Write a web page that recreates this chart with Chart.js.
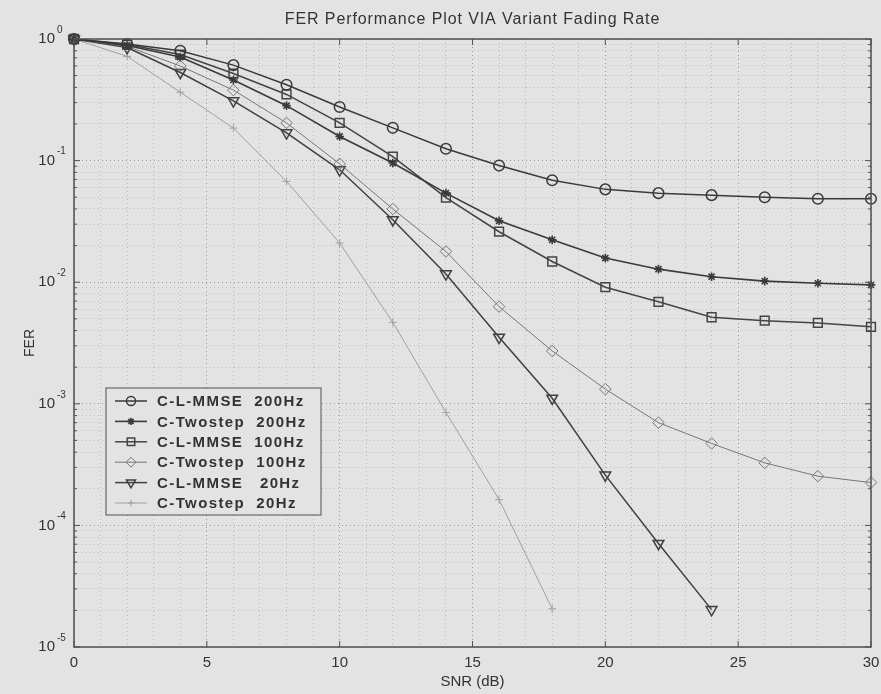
<!DOCTYPE html>
<html>
<head>
<meta charset="utf-8">
<script src="https://cdn.jsdelivr.net/npm/chart.js@4"></script>
<style>
  html, body { margin: 0; padding: 0; background: #e3e3e3; }
  canvas { display: block; }
</style>
</head>
<body>
<canvas id="fer" width="881" height="694"></canvas>
<script>
// SNR points (dB)
const snr = [0, 2, 4, 6, 8, 10, 12, 14, 16, 18, 20, 22, 24, 26, 28, 30];

const chartTitle = 'FER Performance Plot VIA Variant Fading Rate';
const seriesLabels = [
  'C-L-MMSE  200Hz',
  'C-Twostep  200Hz',
  'C-L-MMSE  100Hz',
  'C-Twostep  100Hz',
  'C-L-MMSE   20Hz',
  'C-Twostep  20Hz'
];

// FER values
const lmmse200   = [1, 0.91, 0.80, 0.61, 0.42, 0.276, 0.186, 0.125, 0.091, 0.069, 0.058, 0.054, 0.052, 0.050, 0.0486, 0.0486];
const twostep200 = [1, 0.885, 0.71, 0.46, 0.283, 0.158, 0.0955, 0.054, 0.032, 0.0223, 0.0158, 0.0128, 0.0111, 0.0102, 0.0098, 0.0095];
const lmmse100   = [1, 0.90, 0.745, 0.52, 0.35, 0.204, 0.108, 0.0497, 0.026, 0.0148, 0.0091, 0.0069, 0.00515, 0.00483, 0.00462, 0.0043];
const twostep100 = [1, 0.87, 0.60, 0.38, 0.204, 0.094, 0.040, 0.0179, 0.0063, 0.00272, 0.00132, 0.0007, 0.000472, 0.000327, 0.000254, 0.000225];
const lmmse20    = [1, 0.85, 0.53, 0.31, 0.169, 0.084, 0.0326, 0.0117, 0.00352, 0.00111, 0.000259, 0.000071, 0.0000203];
const twostep20  = [1, 0.72, 0.365, 0.185, 0.0675, 0.021, 0.00468, 0.00085, 0.000163, 0.0000206];

// axis ticks
const xTickLabels = [0, 5, 10, 15, 20, 25, 30];
const yExponents = [0, -1, -2, -3, -4, -5];

const yGrid = [];
yExponents.slice(1).forEach(e => {
  for (let k = 1; k <= 9; k++) yGrid.push(k * Math.pow(10, e));
});
yGrid.push(1);

const pts = vals => vals.map((v, i) => ({ x: snr[i], y: v }));

const styles = [
  { color: '#3a3a3a', width: 1.5, point: 'circle',   radius: 5.3, rotation: 0 },
  { color: '#3a3a3a', width: 1.6, point: 'star',     radius: 4.3, rotation: 0 },
  { color: '#444444', width: 1.5, point: 'rect',     radius: 6.2, rotation: 0 },
  { color: '#777777', width: 1,   point: 'rectRot',  radius: 5.8, rotation: 0 },
  { color: '#404040', width: 1.5, point: 'triangle', radius: 6.2, rotation: 180 },
  { color: '#a0a0a0', width: 1,   point: 'cross',    radius: 4,   rotation: 0 }
];

const seriesData = [lmmse200, twostep200, lmmse100, twostep100, lmmse20, twostep20];

const datasets = seriesData.map((vals, i) => ({
  label: seriesLabels[i],
  data: pts(vals),
  borderColor: styles[i].color,
  borderWidth: styles[i].width,
  pointStyle: styles[i].point,
  pointRadius: styles[i].radius,
  pointRotation: styles[i].rotation,
  pointBorderColor: styles[i].color,
  pointBackgroundColor: 'rgba(0,0,0,0)',
  pointBorderWidth: styles[i].width,
  tension: 0,
  clip: false
}));

const ink = '#333333';
const font = 'Liberation Sans, Arial, Helvetica, sans-serif';

// title, box, inward ticks, y labels with superscripts, legend inside the axes
const framePlugin = {
  id: 'frame',
  afterDatasetsDraw(chart) {
    const ctx = chart.ctx;
    const a = chart.chartArea;
    const xs = chart.scales.x, ys = chart.scales.y;
    ctx.save();

    ctx.fillStyle = ink;
    ctx.font = '16px ' + font;
    ctx.letterSpacing = '0.9px';
    ctx.textAlign = 'center';
    ctx.textBaseline = 'middle';
    ctx.fillText(chartTitle, (a.left + a.right) / 2, 20);
    ctx.letterSpacing = '0px';

    ctx.strokeStyle = '#505050';
    ctx.lineWidth = 1.5;
    ctx.strokeRect(a.left, a.top, a.right - a.left, a.bottom - a.top);

    ctx.lineWidth = 1;
    ctx.beginPath();
    xTickLabels.forEach(v => {
      const px = xs.getPixelForValue(v);
      ctx.moveTo(px, a.bottom); ctx.lineTo(px, a.bottom - 6);
      ctx.moveTo(px, a.top); ctx.lineTo(px, a.top + 6);
    });
    yGrid.forEach(v => {
      const py = ys.getPixelForValue(v);
      const len = Math.abs(Math.log10(v) - Math.round(Math.log10(v))) < 1e-9 ? 6 : 3;
      ctx.moveTo(a.left, py); ctx.lineTo(a.left + len, py);
      ctx.moveTo(a.right, py); ctx.lineTo(a.right - len, py);
    });
    ctx.stroke();

    // y tick labels 10^n
    ctx.fillStyle = ink;
    ctx.textBaseline = 'middle';
    yExponents.forEach(e => {
      const py = ys.getPixelForValue(Math.pow(10, e));
      ctx.font = '15px ' + font;
      ctx.textAlign = 'right';
      ctx.fillText('10', a.left - 19, py);
      ctx.font = '10px ' + font;
      ctx.textAlign = 'left';
      ctx.fillText(e === 0 ? '0' : '-' + (-e), a.left - 17, py - 9);
    });

    // legend
    const lx = a.left + 32, ly = 388, lw = 215, lh = 127;
    ctx.fillStyle = '#e3e3e3';
    ctx.fillRect(lx, ly, lw, lh);
    ctx.strokeStyle = '#505050';
    ctx.lineWidth = 1;
    ctx.strokeRect(lx, ly, lw, lh);
    ctx.font = 'bold 15px ' + font;
    ctx.letterSpacing = '1.4px';
    ctx.textAlign = 'left';
    ctx.textBaseline = 'middle';
    chart.data.datasets.forEach((ds, i) => {
      const ry = ly + 13 + i * 20.4;
      ctx.strokeStyle = ds.borderColor;
      ctx.lineWidth = ds.borderWidth;
      ctx.beginPath();
      ctx.moveTo(lx + 9, ry); ctx.lineTo(lx + 41, ry);
      ctx.stroke();
      ctx.fillStyle = 'rgba(0,0,0,0)';
      Chart.helpers.drawPoint(ctx, {
        pointStyle: ds.pointStyle, rotation: ds.pointRotation,
        radius: ds.pointRadius * 0.85, borderWidth: ds.borderWidth
      }, lx + 25, ry);
      ctx.fillStyle = ink;
      ctx.fillText(ds.label, lx + 51, ry + 1);
    });
    ctx.restore();
  }
};

new Chart(document.getElementById('fer'), {
  type: 'line',
  data: { datasets },
  options: {
    responsive: false,
    animation: false,
    layout: { padding: { left: 0, right: 10, top: 39, bottom: 0 } },
    plugins: {
      legend: { display: false },
      tooltip: { enabled: false },
      title: { display: false }
    },
    scales: {
      x: {
        type: 'linear',
        min: 0,
        max: 30,
        ticks: {
          stepSize: 1,
          autoSkip: false,
          maxRotation: 0,
          padding: 7,
          color: ink,
          font: { family: font, size: 15 },
          callback: v => xTickLabels.includes(v) ? String(v) : ''
        },
        grid: {
          drawTicks: false,
          color: c => (c.tick && c.tick.value % 5 === 0) ? '#9a9a9a' : '#bdbdbd'
        },
        border: { display: false, dash: [1, 3] },
        title: {
          display: true,
          text: 'SNR (dB)',
          color: ink,
          font: { family: font, size: 15 },
          padding: { top: 0, bottom: 3 }
        },
        afterFit: s => { s.height = 47; s.paddingLeft = 0; s.paddingRight = 0; }
      },
      y: {
        type: 'logarithmic',
        min: 1e-5,
        max: 1,
        afterBuildTicks: s => { s.ticks = yGrid.map(v => ({ value: v })); },
        ticks: { display: false },
        grid: {
          drawTicks: false,
          color: c => {
            const v = c.tick ? c.tick.value : 1;
            const l = Math.log10(v);
            return Math.abs(l - Math.round(l)) < 1e-9 ? '#9a9a9a' : '#bdbdbd';
          }
        },
        border: { display: false, dash: [1, 3] },
        title: {
          display: true,
          text: 'FER',
          color: ink,
          font: { family: font, size: 14 },
          padding: { top: 22, bottom: 0 }
        },
        afterFit: s => { s.width = 74; s.paddingTop = 0; s.paddingBottom = 0; }
      }
    }
  },
  plugins: [framePlugin]
});
</script>
</body>
</html>
